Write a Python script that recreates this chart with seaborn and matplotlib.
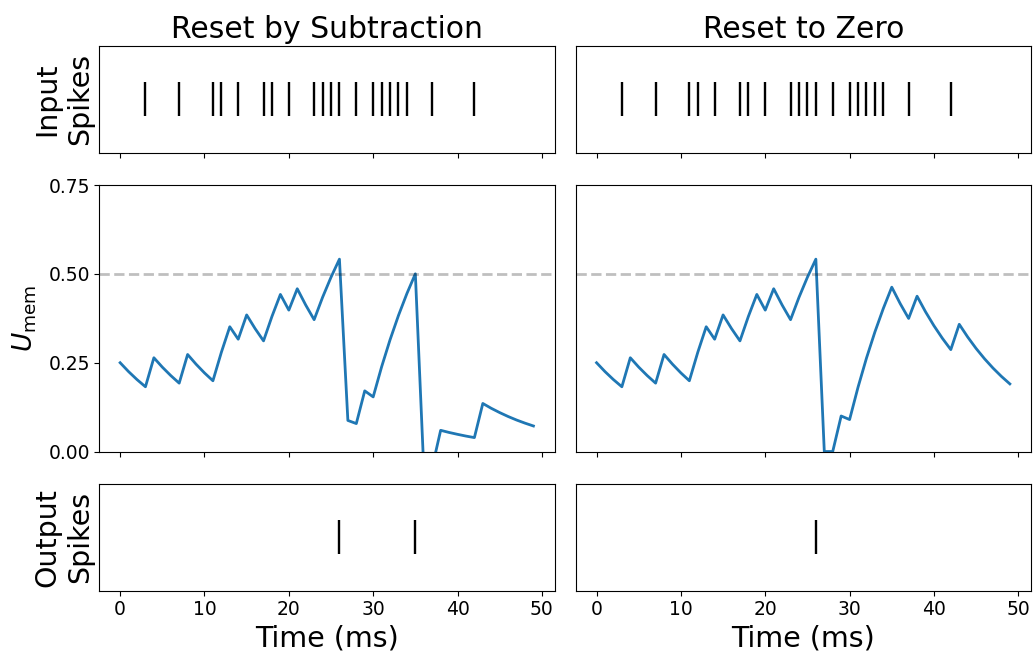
import numpy as np
import pandas as pd
import matplotlib
matplotlib.use("Agg")
import matplotlib.pyplot as plt
import seaborn as sns

# ---------------- data ----------------
time_steps = list(range(50))
input_spike_times = [3, 7, 11, 12, 14, 17, 18, 20, 23, 24, 25, 26, 28, 30, 31,
                     32, 33, 34, 37, 42]

mem_subtract = [0.250, 0.225, 0.2025, 0.1823, 0.2640, 0.2376, 0.2139, 0.1925,
                0.2732, 0.2459, 0.2213, 0.1992, 0.2793, 0.3513, 0.3162, 0.3846,
                0.3461, 0.3115, 0.3804, 0.4423, 0.3981, 0.4583, 0.4125, 0.3712,
                0.4341, 0.4907, 0.5416, 0.0875, 0.0787, 0.1708, 0.1538, 0.2384,
                0.3145, 0.3831, 0.4448, 0.5003, -0.0497, -0.0448, 0.0597, 0.0537,
                0.0484, 0.0435, 0.0392, 0.1353, 0.1217, 0.1096, 0.0986, 0.0887,
                0.0799, 0.0719]

mem_zero = [0.250, 0.225, 0.2025, 0.1823, 0.2640, 0.2376, 0.2139, 0.1925,
            0.2732, 0.2459, 0.2213, 0.1992, 0.2793, 0.3513, 0.3162, 0.3846,
            0.3461, 0.3115, 0.3804, 0.4423, 0.3981, 0.4583, 0.4125, 0.3712,
            0.4341, 0.4907, 0.5416, 0.0, 0.0, 0.100, 0.090, 0.181,
            0.2629, 0.3366, 0.4029, 0.4627, 0.4164, 0.3747, 0.4373, 0.3935,
            0.3542, 0.3188, 0.2869, 0.3582, 0.3224, 0.2901, 0.2611, 0.2350,
            0.2115, 0.1904]

out_spikes_subtract = [26, 35]
out_spikes_zero = [26]

threshold = 0.5
titles = ["Reset by Subtraction", "Reset to Zero"]
ytick_vals = [0.0, 0.25, 0.50, 0.75]
ytick_labels = ["0.00", "0.25", "0.50", "0.75"]
xtick_vals = [0, 10, 20, 30, 40, 50]

# ---------------- figure ----------------
fig = plt.figure(figsize=(10.33, 6.55), dpi=100)
gs = fig.add_gridspec(3, 2, height_ratios=[0.4, 1, 0.4],
                      left=0.0963, right=0.998, top=0.9298, bottom=0.0982,
                      wspace=0.047, hspace=0.204)

TICK_FS = 13.5
BLUE = "#1f77b4"

mems = [mem_subtract, mem_zero]
outs = [out_spikes_subtract, out_spikes_zero]

for col in range(2):
    ax_in = fig.add_subplot(gs[0, col])
    ax_mem = fig.add_subplot(gs[1, col])
    ax_out = fig.add_subplot(gs[2, col])

    # input raster
    df_in = pd.DataFrame({"t": input_spike_times, "n": [0] * len(input_spike_times)})
    ax_in.scatter(df_in["t"], df_in["n"], marker="|", s=590, c="black", linewidths=1.7)
    ax_in.set_ylim(-1, 1)
    ax_in.set_yticks([])
    ax_in.set_title(titles[col], fontsize=21.5)

    # membrane
    df_mem = pd.DataFrame({"t": time_steps, "u": mems[col]})
    sns.lineplot(data=df_mem, x="t", y="u", ax=ax_mem, color=BLUE, linewidth=2.0)
    ax_mem.axhline(y=threshold, alpha=0.25, linestyle="dashed", color="black", linewidth=2)
    ax_mem.set_ylim(0, 0.75)
    ax_mem.set_xlabel("")
    ax_mem.set_ylabel("")

    # output raster
    df_out = pd.DataFrame({"t": outs[col], "n": [0] * len(outs[col])})
    ax_out.scatter(df_out["t"], df_out["n"], marker="|", s=590, c="black", linewidths=1.7)
    ax_out.set_ylim(-1, 1)
    ax_out.set_yticks([])
    ax_out.set_xlabel("Time (ms)", fontsize=20.5)

    for ax in (ax_in, ax_mem, ax_out):
        ax.set_xlim(-2.45, 51.5)
        ax.set_xticks(xtick_vals)
        ax.tick_params(labelsize=TICK_FS)
    ax_in.tick_params(labelbottom=False)
    ax_mem.tick_params(labelbottom=False)

    if col == 0:
        ax_in.set_ylabel("Input\nSpikes", fontsize=20.5)
        ax_mem.set_yticks(ytick_vals)
        ax_mem.set_yticklabels(ytick_labels)
        ax_mem.set_ylabel(r"$U_{\rm mem}$", fontsize=19, labelpad=7)
        ax_out.set_ylabel("Output\nSpikes", fontsize=20.5)
    else:
        ax_mem.set_yticks([])

fig.savefig("out.png", dpi=100)
